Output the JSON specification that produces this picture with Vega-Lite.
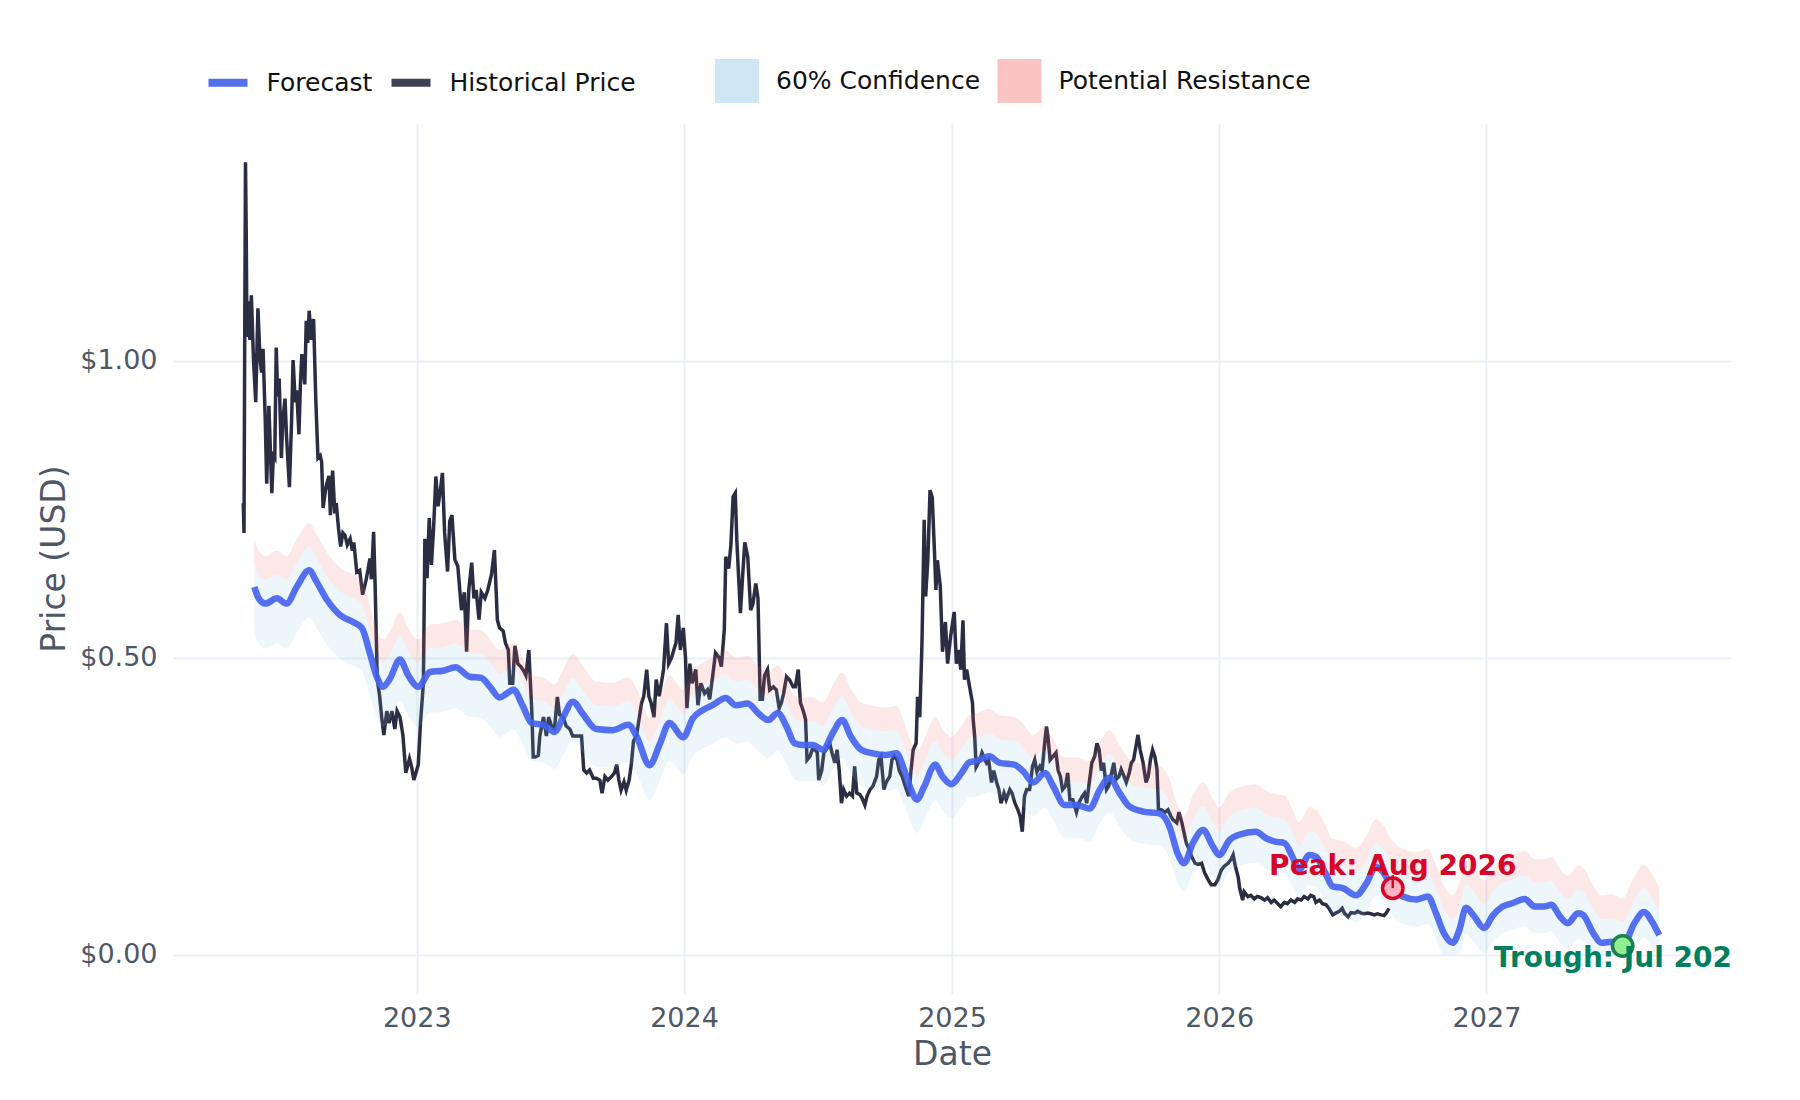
{
"$schema": "https://vega.github.io/schema/vega-lite/v6.json",
"width": 1558, "height": 871,
"autosize": {"type": "none"},
"padding": {"left": 173, "top": 123, "right": 69, "bottom": 106},
"background": "white",
"config": {
  "view": {"stroke": null},
  "font": "DejaVu Sans",
  "axis": {"domain": false, "ticks": false, "gridColor": "#ebf0f8", "gridWidth": 2, "labelFont": "DejaVu Sans", "labelFontSize": 27, "labelColor": "#4d5766", "titleFont": "DejaVu Sans", "titleFontSize": 33, "titleFontWeight": "normal", "titleColor": "#4d5766"}
},
"datasets": {
"hist": [
{"d":"2022-05-09","p":0.76},{"d":"2022-05-10","p":0.71},{"d":"2022-05-11","p":1.05},{"d":"2022-05-12","p":1.334},{"d":"2022-05-13","p":1.217},{"d":"2022-05-14","p":1.04},{"d":"2022-05-16","p":1.10},{"d":"2022-05-18","p":1.035},{"d":"2022-05-20","p":1.11},{"d":"2022-05-23","p":1.00},{"d":"2022-05-26","p":0.93},{"d":"2022-05-29","p":1.088},{"d":"2022-06-01","p":1.00},{"d":"2022-06-03","p":0.98},{"d":"2022-06-05","p":1.02},{"d":"2022-06-08","p":0.90},{"d":"2022-06-10","p":0.793},{"d":"2022-06-13","p":0.924},{"d":"2022-06-15","p":0.85},{"d":"2022-06-17","p":0.777},{"d":"2022-06-19","p":0.84},{"d":"2022-06-21","p":0.836},{"d":"2022-06-23","p":1.022},{"d":"2022-06-25","p":0.94},{"d":"2022-06-27","p":0.97},{"d":"2022-06-30","p":0.836},{"d":"2022-07-02","p":0.90},{"d":"2022-07-05","p":0.936},{"d":"2022-07-07","p":0.874},{"d":"2022-07-09","p":0.83},{"d":"2022-07-11","p":0.787},{"d":"2022-07-14","p":0.90},{"d":"2022-07-16","p":1.001},{"d":"2022-07-19","p":0.93},{"d":"2022-07-21","p":0.95},{"d":"2022-07-24","p":0.876},{"d":"2022-07-26","p":0.96},{"d":"2022-07-28","p":1.011},{"d":"2022-08-01","p":0.96},{"d":"2022-08-03","p":1.067},{"d":"2022-08-05","p":1.03},{"d":"2022-08-07","p":1.084},{"d":"2022-08-10","p":1.035},{"d":"2022-08-13","p":1.07},{"d":"2022-08-16","p":0.936},{"d":"2022-08-19","p":0.836},{"d":"2022-08-22","p":0.84},{"d":"2022-08-24","p":0.83},{"d":"2022-08-26","p":0.752},{"d":"2022-08-29","p":0.78},{"d":"2022-08-31","p":0.793},{"d":"2022-09-03","p":0.806},{"d":"2022-09-05","p":0.74},{"d":"2022-09-08","p":0.815},{"d":"2022-09-11","p":0.743},{"d":"2022-09-13","p":0.76},{"d":"2022-09-16","p":0.718},{"d":"2022-09-19","p":0.687},{"d":"2022-09-22","p":0.71},{"d":"2022-09-25","p":0.706},{"d":"2022-09-28","p":0.69},{"d":"2022-10-02","p":0.70},{"d":"2022-10-05","p":0.68},{"d":"2022-10-07","p":0.694},{"d":"2022-10-11","p":0.644},{"d":"2022-10-15","p":0.647},{"d":"2022-10-19","p":0.606},{"d":"2022-10-24","p":0.632},{"d":"2022-10-29","p":0.667},{"d":"2022-10-31","p":0.632},{"d":"2022-11-03","p":0.712},{"d":"2022-11-05","p":0.626},{"d":"2022-11-08","p":0.463},{"d":"2022-11-11","p":0.438},{"d":"2022-11-14","p":0.40},{"d":"2022-11-17","p":0.37},{"d":"2022-11-21","p":0.41},{"d":"2022-11-24","p":0.39},{"d":"2022-11-28","p":0.41},{"d":"2022-12-02","p":0.38},{"d":"2022-12-05","p":0.41},{"d":"2022-12-09","p":0.40},{"d":"2022-12-13","p":0.37},{"d":"2022-12-17","p":0.306},{"d":"2022-12-22","p":0.33},{"d":"2022-12-25","p":0.316},{"d":"2022-12-28","p":0.294},{"d":"2023-01-03","p":0.32},{"d":"2023-01-06","p":0.39},{"d":"2023-01-10","p":0.457},{"d":"2023-01-12","p":0.70},{"d":"2023-01-15","p":0.634},{"d":"2023-01-18","p":0.735},{"d":"2023-01-21","p":0.656},{"d":"2023-01-24","p":0.72},{"d":"2023-01-27","p":0.805},{"d":"2023-01-30","p":0.755},{"d":"2023-02-02","p":0.78},{"d":"2023-02-05","p":0.811},{"d":"2023-02-08","p":0.71},{"d":"2023-02-12","p":0.645},{"d":"2023-02-15","p":0.73},{"d":"2023-02-18","p":0.74},{"d":"2023-02-22","p":0.665},{"d":"2023-02-26","p":0.654},{"d":"2023-03-03","p":0.58},{"d":"2023-03-07","p":0.61},{"d":"2023-03-10","p":0.51},{"d":"2023-03-13","p":0.614},{"d":"2023-03-17","p":0.66},{"d":"2023-03-20","p":0.60},{"d":"2023-03-23","p":0.614},{"d":"2023-03-27","p":0.564},{"d":"2023-03-30","p":0.61},{"d":"2023-04-04","p":0.60},{"d":"2023-04-08","p":0.614},{"d":"2023-04-13","p":0.64},{"d":"2023-04-17","p":0.681},{"d":"2023-04-21","p":0.564},{"d":"2023-04-24","p":0.55},{"d":"2023-04-29","p":0.545},{"d":"2023-05-02","p":0.525},{"d":"2023-05-06","p":0.513},{"d":"2023-05-08","p":0.457},{"d":"2023-05-12","p":0.457},{"d":"2023-05-15","p":0.52},{"d":"2023-05-19","p":0.49},{"d":"2023-05-23","p":0.485},{"d":"2023-05-26","p":0.48},{"d":"2023-05-30","p":0.47},{"d":"2023-06-03","p":0.513},{"d":"2023-06-07","p":0.412},{"d":"2023-06-09","p":0.333},{"d":"2023-06-12","p":0.333},{"d":"2023-06-16","p":0.336},{"d":"2023-06-18","p":0.368},{"d":"2023-06-23","p":0.40},{"d":"2023-06-27","p":0.368},{"d":"2023-06-30","p":0.40},{"d":"2023-07-04","p":0.385},{"d":"2023-07-08","p":0.38},{"d":"2023-07-12","p":0.434},{"d":"2023-07-15","p":0.404},{"d":"2023-07-20","p":0.40},{"d":"2023-07-24","p":0.385},{"d":"2023-07-29","p":0.38},{"d":"2023-08-02","p":0.368},{"d":"2023-08-07","p":0.368},{"d":"2023-08-14","p":0.368},{"d":"2023-08-17","p":0.311},{"d":"2023-08-21","p":0.306},{"d":"2023-08-25","p":0.311},{"d":"2023-08-30","p":0.297},{"d":"2023-09-03","p":0.297},{"d":"2023-09-08","p":0.294},{"d":"2023-09-11","p":0.272},{"d":"2023-09-15","p":0.30},{"d":"2023-09-19","p":0.294},{"d":"2023-09-24","p":0.30},{"d":"2023-09-28","p":0.306},{"d":"2023-10-01","p":0.32},{"d":"2023-10-04","p":0.294},{"d":"2023-10-07","p":0.277},{"d":"2023-10-11","p":0.291},{"d":"2023-10-14","p":0.277},{"d":"2023-10-18","p":0.294},{"d":"2023-10-21","p":0.32},{"d":"2023-10-24","p":0.36},{"d":"2023-10-28","p":0.368},{"d":"2023-11-01","p":0.40},{"d":"2023-11-04","p":0.424},{"d":"2023-11-07","p":0.435},{"d":"2023-11-11","p":0.48},{"d":"2023-11-14","p":0.435},{"d":"2023-11-17","p":0.424},{"d":"2023-11-21","p":0.40},{"d":"2023-11-24","p":0.463},{"d":"2023-11-28","p":0.435},{"d":"2023-12-01","p":0.457},{"d":"2023-12-04","p":0.48},{"d":"2023-12-08","p":0.558},{"d":"2023-12-11","p":0.49},{"d":"2023-12-15","p":0.50},{"d":"2023-12-18","p":0.513},{"d":"2023-12-21","p":0.525},{"d":"2023-12-24","p":0.572},{"d":"2023-12-27","p":0.513},{"d":"2023-12-31","p":0.55},{"d":"2024-01-03","p":0.50},{"d":"2024-01-05","p":0.415},{"d":"2024-01-09","p":0.49},{"d":"2024-01-12","p":0.457},{"d":"2024-01-17","p":0.48},{"d":"2024-01-20","p":0.42},{"d":"2024-01-24","p":0.457},{"d":"2024-01-29","p":0.44},{"d":"2024-02-02","p":0.446},{"d":"2024-02-05","p":0.43},{"d":"2024-02-09","p":0.468},{"d":"2024-02-13","p":0.508},{"d":"2024-02-18","p":0.50},{"d":"2024-02-21","p":0.485},{"d":"2024-02-25","p":0.547},{"d":"2024-02-27","p":0.67},{"d":"2024-03-02","p":0.65},{"d":"2024-03-05","p":0.69},{"d":"2024-03-08","p":0.771},{"d":"2024-03-11","p":0.777},{"d":"2024-03-13","p":0.70},{"d":"2024-03-16","p":0.625},{"d":"2024-03-18","p":0.575},{"d":"2024-03-21","p":0.637},{"d":"2024-03-24","p":0.694},{"d":"2024-03-28","p":0.67},{"d":"2024-04-01","p":0.58},{"d":"2024-04-04","p":0.59},{"d":"2024-04-08","p":0.625},{"d":"2024-04-11","p":0.60},{"d":"2024-04-14","p":0.43},{"d":"2024-04-17","p":0.43},{"d":"2024-04-20","p":0.47},{"d":"2024-04-24","p":0.48},{"d":"2024-04-27","p":0.446},{"d":"2024-05-02","p":0.451},{"d":"2024-05-06","p":0.446},{"d":"2024-05-10","p":0.415},{"d":"2024-05-13","p":0.424},{"d":"2024-05-16","p":0.44},{"d":"2024-05-20","p":0.468},{"d":"2024-05-24","p":0.463},{"d":"2024-05-29","p":0.451},{"d":"2024-06-01","p":0.451},{"d":"2024-06-05","p":0.48},{"d":"2024-06-08","p":0.424},{"d":"2024-06-12","p":0.41},{"d":"2024-06-15","p":0.396},{"d":"2024-06-17","p":0.328},{"d":"2024-06-21","p":0.334},{"d":"2024-06-24","p":0.345},{"d":"2024-06-28","p":0.345},{"d":"2024-07-01","p":0.34},{"d":"2024-07-03","p":0.294},{"d":"2024-07-07","p":0.31},{"d":"2024-07-10","p":0.34},{"d":"2024-07-13","p":0.345},{"d":"2024-07-18","p":0.356},{"d":"2024-07-21","p":0.34},{"d":"2024-07-25","p":0.323},{"d":"2024-07-28","p":0.345},{"d":"2024-07-31","p":0.31},{"d":"2024-08-03","p":0.255},{"d":"2024-08-06","p":0.278},{"d":"2024-08-10","p":0.267},{"d":"2024-08-14","p":0.272},{"d":"2024-08-18","p":0.267},{"d":"2024-08-21","p":0.317},{"d":"2024-08-24","p":0.272},{"d":"2024-08-28","p":0.27},{"d":"2024-08-31","p":0.264},{"d":"2024-09-04","p":0.252},{"d":"2024-09-07","p":0.267},{"d":"2024-09-11","p":0.278},{"d":"2024-09-15","p":0.284},{"d":"2024-09-20","p":0.30},{"d":"2024-09-23","p":0.328},{"d":"2024-09-26","p":0.334},{"d":"2024-09-30","p":0.278},{"d":"2024-10-03","p":0.29},{"d":"2024-10-08","p":0.30},{"d":"2024-10-11","p":0.328},{"d":"2024-10-14","p":0.334},{"d":"2024-10-18","p":0.328},{"d":"2024-10-21","p":0.31},{"d":"2024-10-25","p":0.30},{"d":"2024-10-29","p":0.284},{"d":"2024-11-03","p":0.267},{"d":"2024-11-06","p":0.31},{"d":"2024-11-09","p":0.345},{"d":"2024-11-13","p":0.356},{"d":"2024-11-15","p":0.434},{"d":"2024-11-18","p":0.40},{"d":"2024-11-21","p":0.525},{"d":"2024-11-24","p":0.732},{"d":"2024-11-26","p":0.603},{"d":"2024-11-29","p":0.664},{"d":"2024-12-02","p":0.782},{"d":"2024-12-05","p":0.77},{"d":"2024-12-08","p":0.68},{"d":"2024-12-10","p":0.614},{"d":"2024-12-12","p":0.664},{"d":"2024-12-16","p":0.62},{"d":"2024-12-19","p":0.51},{"d":"2024-12-23","p":0.56},{"d":"2024-12-26","p":0.49},{"d":"2024-12-30","p":0.535},{"d":"2025-01-04","p":0.577},{"d":"2025-01-07","p":0.49},{"d":"2025-01-10","p":0.513},{"d":"2025-01-13","p":0.48},{"d":"2025-01-16","p":0.563},{"d":"2025-01-18","p":0.463},{"d":"2025-01-21","p":0.48},{"d":"2025-01-25","p":0.451},{"d":"2025-01-29","p":0.424},{"d":"2025-01-30","p":0.395},{"d":"2025-02-01","p":0.367},{"d":"2025-02-03","p":0.316},{"d":"2025-02-08","p":0.328},{"d":"2025-02-11","p":0.34},{"d":"2025-02-17","p":0.323},{"d":"2025-02-20","p":0.328},{"d":"2025-02-24","p":0.29},{"d":"2025-02-27","p":0.31},{"d":"2025-03-03","p":0.29},{"d":"2025-03-06","p":0.278},{"d":"2025-03-09","p":0.255},{"d":"2025-03-13","p":0.272},{"d":"2025-03-16","p":0.261},{"d":"2025-03-21","p":0.278},{"d":"2025-03-24","p":0.272},{"d":"2025-03-28","p":0.255},{"d":"2025-04-01","p":0.244},{"d":"2025-04-04","p":0.233},{"d":"2025-04-07","p":0.207},{"d":"2025-04-10","p":0.267},{"d":"2025-04-13","p":0.278},{"d":"2025-04-17","p":0.278},{"d":"2025-04-21","p":0.317},{"d":"2025-04-24","p":0.328},{"d":"2025-04-27","p":0.308},{"d":"2025-05-01","p":0.317},{"d":"2025-05-04","p":0.31},{"d":"2025-05-08","p":0.361},{"d":"2025-05-10","p":0.384},{"d":"2025-05-12","p":0.367},{"d":"2025-05-15","p":0.328},{"d":"2025-05-19","p":0.334},{"d":"2025-05-23","p":0.34},{"d":"2025-05-26","p":0.31},{"d":"2025-05-29","p":0.30},{"d":"2025-06-01","p":0.278},{"d":"2025-06-05","p":0.284},{"d":"2025-06-08","p":0.306},{"d":"2025-06-11","p":0.261},{"d":"2025-06-15","p":0.261},{"d":"2025-06-20","p":0.24},{"d":"2025-06-23","p":0.255},{"d":"2025-06-28","p":0.267},{"d":"2025-07-01","p":0.272},{"d":"2025-07-04","p":0.255},{"d":"2025-07-08","p":0.295},{"d":"2025-07-11","p":0.323},{"d":"2025-07-15","p":0.334},{"d":"2025-07-18","p":0.356},{"d":"2025-07-21","p":0.345},{"d":"2025-07-24","p":0.31},{"d":"2025-07-27","p":0.323},{"d":"2025-07-31","p":0.278},{"d":"2025-08-03","p":0.284},{"d":"2025-08-06","p":0.30},{"d":"2025-08-10","p":0.323},{"d":"2025-08-13","p":0.295},{"d":"2025-08-17","p":0.30},{"d":"2025-08-20","p":0.312},{"d":"2025-08-23","p":0.303},{"d":"2025-08-27","p":0.29},{"d":"2025-08-31","p":0.306},{"d":"2025-09-03","p":0.323},{"d":"2025-09-06","p":0.328},{"d":"2025-09-10","p":0.356},{"d":"2025-09-12","p":0.37},{"d":"2025-09-15","p":0.345},{"d":"2025-09-19","p":0.323},{"d":"2025-09-23","p":0.29},{"d":"2025-09-26","p":0.30},{"d":"2025-09-29","p":0.328},{"d":"2025-10-02","p":0.345},{"d":"2025-10-05","p":0.334},{"d":"2025-10-08","p":0.312},{"d":"2025-10-10","p":0.244},{"d":"2025-10-14","p":0.244},{"d":"2025-10-19","p":0.24},{"d":"2025-10-23","p":0.244},{"d":"2025-10-27","p":0.233},{"d":"2025-10-30","p":0.227},{"d":"2025-11-04","p":0.222},{"d":"2025-11-07","p":0.24},{"d":"2025-11-11","p":0.222},{"d":"2025-11-14","p":0.205},{"d":"2025-11-17","p":0.188},{"d":"2025-11-21","p":0.177},{"d":"2025-11-24","p":0.166},{"d":"2025-11-29","p":0.154},{"d":"2025-12-03","p":0.152},{"d":"2025-12-08","p":0.154},{"d":"2025-12-12","p":0.138},{"d":"2025-12-17","p":0.126},{"d":"2025-12-21","p":0.118},{"d":"2025-12-26","p":0.118},{"d":"2025-12-30","p":0.126},{"d":"2026-01-04","p":0.143},{"d":"2026-01-08","p":0.149},{"d":"2026-01-13","p":0.154},{"d":"2026-01-17","p":0.16},{"d":"2026-01-20","p":0.168},{"d":"2026-01-23","p":0.149},{"d":"2026-01-27","p":0.13},{"d":"2026-01-29","p":0.111},{"d":"2026-02-02","p":0.092},{"d":"2026-02-04","p":0.106},{"d":"2026-02-09","p":0.098},{"d":"2026-02-13","p":0.10},{"d":"2026-02-18","p":0.094},{"d":"2026-02-22","p":0.098},{"d":"2026-02-27","p":0.096},{"d":"2026-03-04","p":0.092},{"d":"2026-03-08","p":0.096},{"d":"2026-03-13","p":0.088},{"d":"2026-03-17","p":0.092},{"d":"2026-03-22","p":0.086},{"d":"2026-03-26","p":0.081},{"d":"2026-03-31","p":0.088},{"d":"2026-04-04","p":0.086},{"d":"2026-04-09","p":0.092},{"d":"2026-04-14","p":0.088},{"d":"2026-04-18","p":0.094},{"d":"2026-04-23","p":0.092},{"d":"2026-04-27","p":0.098},{"d":"2026-05-02","p":0.094},{"d":"2026-05-06","p":0.10},{"d":"2026-05-10","p":0.098},{"d":"2026-05-13","p":0.088},{"d":"2026-05-18","p":0.092},{"d":"2026-05-22","p":0.086},{"d":"2026-05-27","p":0.084},{"d":"2026-05-31","p":0.078},{"d":"2026-06-05","p":0.067},{"d":"2026-06-09","p":0.07},{"d":"2026-06-14","p":0.073},{"d":"2026-06-18","p":0.078},{"d":"2026-06-21","p":0.07},{"d":"2026-06-26","p":0.064},{"d":"2026-06-30","p":0.071},{"d":"2026-07-05","p":0.07},{"d":"2026-07-09","p":0.073},{"d":"2026-07-14","p":0.07},{"d":"2026-07-18","p":0.069},{"d":"2026-07-23","p":0.07},{"d":"2026-07-27","p":0.069},{"d":"2026-08-01","p":0.067},{"d":"2026-08-05","p":0.069},{"d":"2026-08-10","p":0.067},{"d":"2026-08-14","p":0.066},{"d":"2026-08-17","p":0.07},{"d":"2026-08-21","p":0.078}
],
"fc": [
{"d":"2022-05-24","f":0.619,"lo":0.542,"hi":0.659,"rs":0.699},{"d":"2022-05-30","f":0.600,"lo":0.524,"hi":0.640,"rs":0.680},{"d":"2022-06-08","f":0.591,"lo":0.516,"hi":0.631,"rs":0.671},{"d":"2022-06-24","f":0.600,"lo":0.524,"hi":0.640,"rs":0.680},{"d":"2022-07-07","f":0.591,"lo":0.516,"hi":0.631,"rs":0.671},{"d":"2022-07-21","f":0.619,"lo":0.542,"hi":0.659,"rs":0.699},{"d":"2022-08-07","f":0.647,"lo":0.568,"hi":0.687,"rs":0.727},{"d":"2022-08-17","f":0.628,"lo":0.550,"hi":0.668,"rs":0.708},{"d":"2022-08-31","f":0.598,"lo":0.522,"hi":0.638,"rs":0.678},{"d":"2022-09-18","f":0.572,"lo":0.498,"hi":0.612,"rs":0.652},{"d":"2022-10-06","f":0.560,"lo":0.486,"hi":0.600,"rs":0.640},{"d":"2022-10-18","f":0.550,"lo":0.477,"hi":0.590,"rs":0.630},{"d":"2022-10-29","f":0.507,"lo":0.437,"hi":0.547,"rs":0.587},{"d":"2022-11-07","f":0.469,"lo":0.401,"hi":0.509,"rs":0.549},{"d":"2022-11-16","f":0.451,"lo":0.384,"hi":0.491,"rs":0.531},{"d":"2022-11-25","f":0.464,"lo":0.396,"hi":0.504,"rs":0.544},{"d":"2022-12-09","f":0.497,"lo":0.427,"hi":0.537,"rs":0.577},{"d":"2022-12-20","f":0.471,"lo":0.403,"hi":0.511,"rs":0.551},{"d":"2023-01-03","f":0.451,"lo":0.384,"hi":0.491,"rs":0.531},{"d":"2023-01-19","f":0.476,"lo":0.407,"hi":0.516,"rs":0.556},{"d":"2023-02-06","f":0.478,"lo":0.409,"hi":0.518,"rs":0.558},{"d":"2023-02-23","f":0.484,"lo":0.415,"hi":0.524,"rs":0.564},{"d":"2023-03-14","f":0.468,"lo":0.400,"hi":0.508,"rs":0.548},{"d":"2023-03-30","f":0.466,"lo":0.398,"hi":0.506,"rs":0.546},{"d":"2023-04-11","f":0.451,"lo":0.384,"hi":0.491,"rs":0.531},{"d":"2023-04-24","f":0.433,"lo":0.367,"hi":0.473,"rs":0.513},{"d":"2023-05-03","f":0.439,"lo":0.373,"hi":0.479,"rs":0.519},{"d":"2023-05-13","f":0.446,"lo":0.379,"hi":0.486,"rs":0.526},{"d":"2023-05-26","f":0.418,"lo":0.353,"hi":0.458,"rs":0.498},{"d":"2023-06-07","f":0.390,"lo":0.327,"hi":0.430,"rs":0.470},{"d":"2023-06-23","f":0.387,"lo":0.324,"hi":0.427,"rs":0.467},{"d":"2023-07-08","f":0.375,"lo":0.313,"hi":0.415,"rs":0.455},{"d":"2023-07-20","f":0.400,"lo":0.336,"hi":0.440,"rs":0.480},{"d":"2023-08-02","f":0.426,"lo":0.360,"hi":0.466,"rs":0.506},{"d":"2023-08-16","f":0.405,"lo":0.341,"hi":0.445,"rs":0.485},{"d":"2023-09-03","f":0.380,"lo":0.317,"hi":0.420,"rs":0.460},{"d":"2023-09-26","f":0.378,"lo":0.315,"hi":0.418,"rs":0.458},{"d":"2023-10-17","f":0.387,"lo":0.324,"hi":0.427,"rs":0.467},{"d":"2023-10-28","f":0.368,"lo":0.306,"hi":0.408,"rs":0.448},{"d":"2023-11-15","f":0.319,"lo":0.260,"hi":0.359,"rs":0.399},{"d":"2023-11-29","f":0.355,"lo":0.294,"hi":0.395,"rs":0.435},{"d":"2023-12-12","f":0.390,"lo":0.327,"hi":0.430,"rs":0.470},{"d":"2023-12-31","f":0.366,"lo":0.304,"hi":0.406,"rs":0.446},{"d":"2024-01-13","f":0.398,"lo":0.334,"hi":0.438,"rs":0.478},{"d":"2024-01-27","f":0.412,"lo":0.347,"hi":0.452,"rs":0.492},{"d":"2024-02-09","f":0.420,"lo":0.355,"hi":0.460,"rs":0.500},{"d":"2024-02-27","f":0.432,"lo":0.366,"hi":0.472,"rs":0.512},{"d":"2024-03-12","f":0.420,"lo":0.355,"hi":0.460,"rs":0.500},{"d":"2024-03-28","f":0.423,"lo":0.358,"hi":0.463,"rs":0.503},{"d":"2024-04-11","f":0.407,"lo":0.343,"hi":0.447,"rs":0.487},{"d":"2024-04-25","f":0.395,"lo":0.331,"hi":0.435,"rs":0.475},{"d":"2024-05-08","f":0.407,"lo":0.343,"hi":0.447,"rs":0.487},{"d":"2024-05-20","f":0.384,"lo":0.321,"hi":0.424,"rs":0.464},{"d":"2024-05-31","f":0.356,"lo":0.295,"hi":0.396,"rs":0.436},{"d":"2024-06-12","f":0.353,"lo":0.292,"hi":0.393,"rs":0.433},{"d":"2024-06-25","f":0.353,"lo":0.292,"hi":0.393,"rs":0.433},{"d":"2024-07-09","f":0.345,"lo":0.284,"hi":0.385,"rs":0.425},{"d":"2024-07-22","f":0.373,"lo":0.311,"hi":0.413,"rs":0.453},{"d":"2024-08-04","f":0.395,"lo":0.331,"hi":0.435,"rs":0.475},{"d":"2024-08-16","f":0.367,"lo":0.305,"hi":0.407,"rs":0.447},{"d":"2024-08-30","f":0.345,"lo":0.284,"hi":0.385,"rs":0.425},{"d":"2024-09-15","f":0.339,"lo":0.279,"hi":0.379,"rs":0.419},{"d":"2024-10-03","f":0.336,"lo":0.276,"hi":0.376,"rs":0.416},{"d":"2024-10-17","f":0.339,"lo":0.279,"hi":0.379,"rs":0.419},{"d":"2024-10-28","f":0.310,"lo":0.251,"hi":0.350,"rs":0.390},{"d":"2024-11-06","f":0.278,"lo":0.221,"hi":0.318,"rs":0.358},{"d":"2024-11-14","f":0.261,"lo":0.205,"hi":0.301,"rs":0.341},{"d":"2024-11-24","f":0.283,"lo":0.226,"hi":0.323,"rs":0.363},{"d":"2024-12-09","f":0.320,"lo":0.261,"hi":0.360,"rs":0.400},{"d":"2024-12-19","f":0.300,"lo":0.242,"hi":0.340,"rs":0.380},{"d":"2024-12-31","f":0.287,"lo":0.230,"hi":0.327,"rs":0.367},{"d":"2025-01-14","f":0.306,"lo":0.248,"hi":0.346,"rs":0.386},{"d":"2025-01-25","f":0.324,"lo":0.265,"hi":0.364,"rs":0.404},{"d":"2025-02-03","f":0.326,"lo":0.266,"hi":0.366,"rs":0.406},{"d":"2025-02-21","f":0.334,"lo":0.274,"hi":0.374,"rs":0.414},{"d":"2025-03-07","f":0.323,"lo":0.264,"hi":0.363,"rs":0.403},{"d":"2025-03-27","f":0.320,"lo":0.261,"hi":0.360,"rs":0.400},{"d":"2025-04-08","f":0.309,"lo":0.250,"hi":0.349,"rs":0.389},{"d":"2025-04-22","f":0.290,"lo":0.233,"hi":0.330,"rs":0.370},{"d":"2025-05-08","f":0.306,"lo":0.248,"hi":0.346,"rs":0.386},{"d":"2025-05-19","f":0.284,"lo":0.227,"hi":0.324,"rs":0.364},{"d":"2025-06-04","f":0.252,"lo":0.197,"hi":0.292,"rs":0.332},{"d":"2025-06-20","f":0.252,"lo":0.197,"hi":0.292,"rs":0.332},{"d":"2025-07-08","f":0.246,"lo":0.191,"hi":0.286,"rs":0.326},{"d":"2025-07-22","f":0.278,"lo":0.221,"hi":0.318,"rs":0.358},{"d":"2025-08-04","f":0.298,"lo":0.240,"hi":0.338,"rs":0.378},{"d":"2025-08-18","f":0.272,"lo":0.216,"hi":0.312,"rs":0.352},{"d":"2025-08-31","f":0.250,"lo":0.195,"hi":0.290,"rs":0.330},{"d":"2025-09-19","f":0.241,"lo":0.187,"hi":0.281,"rs":0.321},{"d":"2025-10-11","f":0.238,"lo":0.184,"hi":0.278,"rs":0.318},{"d":"2025-10-25","f":0.216,"lo":0.163,"hi":0.256,"rs":0.296},{"d":"2025-11-05","f":0.171,"lo":0.121,"hi":0.211,"rs":0.251},{"d":"2025-11-14","f":0.154,"lo":0.105,"hi":0.194,"rs":0.234},{"d":"2025-11-26","f":0.188,"lo":0.137,"hi":0.228,"rs":0.268},{"d":"2025-12-10","f":0.210,"lo":0.157,"hi":0.250,"rs":0.290},{"d":"2025-12-23","f":0.183,"lo":0.132,"hi":0.223,"rs":0.263},{"d":"2026-01-01","f":0.168,"lo":0.118,"hi":0.208,"rs":0.248},{"d":"2026-01-15","f":0.193,"lo":0.141,"hi":0.233,"rs":0.273},{"d":"2026-01-28","f":0.202,"lo":0.150,"hi":0.242,"rs":0.282},{"d":"2026-02-20","f":0.207,"lo":0.155,"hi":0.247,"rs":0.287},{"d":"2026-03-06","f":0.196,"lo":0.144,"hi":0.236,"rs":0.276},{"d":"2026-03-20","f":0.190,"lo":0.139,"hi":0.230,"rs":0.270},{"d":"2026-03-31","f":0.188,"lo":0.137,"hi":0.228,"rs":0.268},{"d":"2026-04-11","f":0.165,"lo":0.115,"hi":0.205,"rs":0.245},{"d":"2026-04-20","f":0.143,"lo":0.094,"hi":0.183,"rs":0.223},{"d":"2026-05-04","f":0.168,"lo":0.118,"hi":0.208,"rs":0.248},{"d":"2026-05-13","f":0.165,"lo":0.115,"hi":0.205,"rs":0.245},{"d":"2026-05-25","f":0.140,"lo":0.092,"hi":0.180,"rs":0.220},{"d":"2026-06-05","f":0.115,"lo":0.068,"hi":0.155,"rs":0.195},{"d":"2026-06-19","f":0.112,"lo":0.065,"hi":0.152,"rs":0.192},{"d":"2026-07-07","f":0.100,"lo":0.054,"hi":0.140,"rs":0.180},{"d":"2026-07-21","f":0.120,"lo":0.073,"hi":0.160,"rs":0.200},{"d":"2026-08-03","f":0.148,"lo":0.099,"hi":0.188,"rs":0.228},{"d":"2026-08-12","f":0.140,"lo":0.092,"hi":0.180,"rs":0.220},{"d":"2026-08-26","f":0.112,"lo":0.065,"hi":0.152,"rs":0.192},{"d":"2026-09-09","f":0.098,"lo":0.052,"hi":0.138,"rs":0.178},{"d":"2026-09-27","f":0.093,"lo":0.047,"hi":0.133,"rs":0.173},{"d":"2026-10-13","f":0.098,"lo":0.052,"hi":0.138,"rs":0.178},{"d":"2026-10-24","f":0.070,"lo":0.026,"hi":0.110,"rs":0.150},{"d":"2026-11-04","f":0.036,"lo":0.0,"hi":0.076,"rs":0.116},{"d":"2026-11-16","f":0.020,"lo":0.0,"hi":0.060,"rs":0.100},{"d":"2026-11-25","f":0.042,"lo":0.0,"hi":0.082,"rs":0.122},{"d":"2026-12-04","f":0.079,"lo":0.034,"hi":0.119,"rs":0.159},{"d":"2026-12-15","f":0.065,"lo":0.021,"hi":0.105,"rs":0.145},{"d":"2026-12-29","f":0.045,"lo":0.002,"hi":0.085,"rs":0.125},{"d":"2027-01-09","f":0.065,"lo":0.021,"hi":0.105,"rs":0.145},{"d":"2027-01-23","f":0.081,"lo":0.036,"hi":0.121,"rs":0.161},{"d":"2027-02-06","f":0.087,"lo":0.042,"hi":0.127,"rs":0.167},{"d":"2027-02-22","f":0.094,"lo":0.048,"hi":0.134,"rs":0.174},{"d":"2027-03-08","f":0.081,"lo":0.036,"hi":0.121,"rs":0.161},{"d":"2027-03-20","f":0.081,"lo":0.036,"hi":0.121,"rs":0.161},{"d":"2027-03-31","f":0.084,"lo":0.039,"hi":0.124,"rs":0.164},{"d":"2027-04-11","f":0.065,"lo":0.021,"hi":0.105,"rs":0.145},{"d":"2027-04-22","f":0.053,"lo":0.010,"hi":0.093,"rs":0.133},{"d":"2027-05-06","f":0.070,"lo":0.026,"hi":0.110,"rs":0.150},{"d":"2027-05-13","f":0.067,"lo":0.023,"hi":0.107,"rs":0.147},{"d":"2027-05-27","f":0.036,"lo":0.0,"hi":0.076,"rs":0.116},{"d":"2027-06-07","f":0.020,"lo":0.0,"hi":0.060,"rs":0.100},{"d":"2027-06-21","f":0.022,"lo":0.0,"hi":0.062,"rs":0.102},{"d":"2027-07-06","f":0.015,"lo":0.0,"hi":0.055,"rs":0.095},{"d":"2027-07-22","f":0.053,"lo":0.010,"hi":0.093,"rs":0.133},{"d":"2027-08-04","f":0.072,"lo":0.028,"hi":0.112,"rs":0.152},{"d":"2027-08-15","f":0.056,"lo":0.013,"hi":0.096,"rs":0.136},{"d":"2027-08-25","f":0.033,"lo":0.0,"hi":0.073,"rs":0.113}
],
"peak": [{"d":"2026-08-26","p":0.112,"label":"Peak: Aug 2026"}],
"trough": [{"d":"2027-07-06","p":0.0146,"label":"Trough: Jul 2027"}]
},
"encoding": {
  "x": {"field": "d", "type": "temporal",
    "scale": {"type": "utc", "domain": [{"year": 2022, "month": 2, "date": 2, "utc": true}, {"year": 2027, "month": 12, "date": 1, "utc": true}]},
    "axis": {"title": "Date", "format": "%Y", "labelPadding": 11, "titlePadding": 7,
      "values": [{"year": 2023, "month": 1, "date": 1, "utc": true}, {"year": 2024, "month": 1, "date": 1, "utc": true}, {"year": 2025, "month": 1, "date": 1, "utc": true}, {"year": 2026, "month": 1, "date": 1, "utc": true}, {"year": 2027, "month": 1, "date": 1, "utc": true}]}}
},
"layer": [
  {"data": {"name": "hist"},
   "mark": {"type": "line", "strokeWidth": 3.5, "clip": true},
   "encoding": {
     "y": {"field": "p", "type": "quantitative", "scale": {"domain": [-0.0661, 1.4], "nice": false, "zero": false},
       "axis": {"title": "Price (USD)", "values": [0, 0.5, 1], "format": "$.2f", "labelPadding": 16, "titlePadding": 8.5}},
     "color": {"datum": "Historical Price", "type": "nominal",
       "scale": {"domain": ["Forecast", "Historical Price"], "range": ["#4361ee", "#2b2d42"]},
       "legend": {"title": null, "orient": "none", "direction": "horizontal", "legendX": 31.5, "legendY": -64, "padding": 0,
         "symbolType": "stroke", "symbolSize": 1521, "symbolStrokeWidth": 8, "symbolOpacity": 1,
         "labelFont": "DejaVu Sans", "labelFontSize": 25, "labelColor": "#111111", "labelOffset": 15, "columnPadding": 3, "labelLimit": 400}}
   }},
  {"data": {"name": "fc"},
   "mark": {"type": "area", "fillOpacity": 0.15, "interpolate": "monotone"},
   "encoding": {
     "y": {"field": "lo", "type": "quantitative"},
     "y2": {"field": "hi"},
     "fill": {"datum": "60% Confidence", "type": "nominal",
       "scale": {"domain": ["60% Confidence", "Potential Resistance"], "range": ["#87c3e6", "#f26666"]},
       "legend": {"title": null, "orient": "none", "direction": "horizontal", "legendX": 542, "legendY": -64, "padding": 0,
         "symbolType": "square", "symbolSize": 1936, "symbolStrokeWidth": 0, "symbolOpacity": 0.4, "symbolFillOpacity": 1,
         "labelFont": "DejaVu Sans", "labelFontSize": 25, "labelColor": "#111111", "labelOffset": 17, "columnPadding": 16.5, "labelLimit": 400}}
   }},
  {"data": {"name": "fc"},
   "mark": {"type": "area", "fillOpacity": 0.15, "interpolate": "monotone"},
   "encoding": {
     "y": {"field": "hi", "type": "quantitative"},
     "y2": {"field": "rs"},
     "fill": {"datum": "Potential Resistance", "type": "nominal"}
   }},
  {"data": {"name": "fc"},
   "mark": {"type": "line", "strokeWidth": 6.5, "opacity": 0.9, "interpolate": "monotone"},
   "encoding": {
     "y": {"field": "f", "type": "quantitative"},
     "color": {"datum": "Forecast", "type": "nominal"}
   }},
  {"data": {"name": "peak"},
   "mark": {"type": "point", "shape": "circle", "filled": true, "fill": "#ffb3c1", "stroke": "#d90429", "strokeWidth": 3.5, "size": 415, "opacity": 1},
   "encoding": {"y": {"field": "p", "type": "quantitative"}}},
  {"data": {"name": "peak"},
   "mark": {"type": "point", "shape": "M0,-1L0,0", "filled": false, "stroke": "#d90429", "strokeWidth": 2.5, "size": 676, "opacity": 1},
   "encoding": {"y": {"field": "p", "type": "quantitative"}}},
  {"data": {"name": "peak"},
   "mark": {"type": "text", "font": "DejaVu Sans", "fontWeight": "bold", "fontSize": 28, "color": "#d90429", "align": "center", "baseline": "alphabetic", "dy": -13},
   "encoding": {"y": {"field": "p", "type": "quantitative"}, "text": {"field": "label"}}},
  {"data": {"name": "trough"},
   "mark": {"type": "point", "shape": "circle", "filled": true, "fill": "#90ee90", "stroke": "#1b7f4f", "strokeWidth": 3.5, "size": 415, "opacity": 1},
   "encoding": {"y": {"field": "p", "type": "quantitative"}}},
  {"data": {"name": "trough"},
   "mark": {"type": "text", "font": "DejaVu Sans", "fontWeight": "bold", "fontSize": 28, "color": "#007f5f", "align": "center", "baseline": "alphabetic", "dy": 21, "clip": true},
   "encoding": {"y": {"field": "p", "type": "quantitative"}, "text": {"field": "label"}}}
]
}
